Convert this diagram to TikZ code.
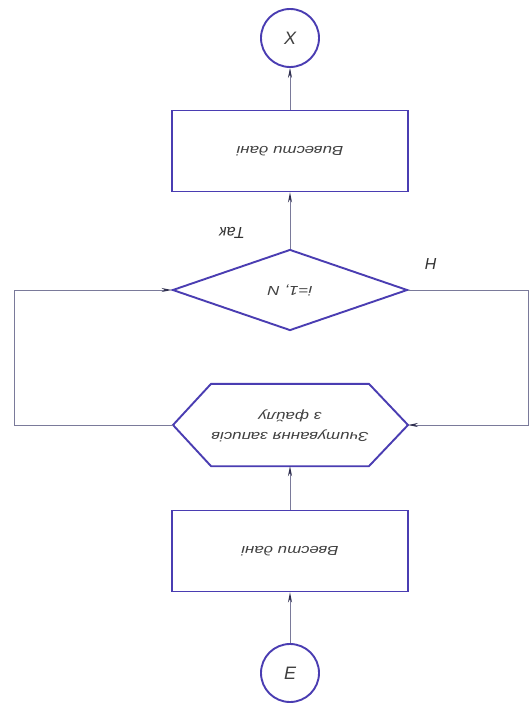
\documentclass[tikz,border=0pt]{standalone}
\usepackage{fontspec}
\setmainfont{Liberation Sans}
\usepackage{graphicx}
\usetikzlibrary{shapes.geometric,arrows.meta}
\definecolor{shapeblue}{HTML}{4A3DB2}
\definecolor{wirec}{HTML}{7A7A9A}
\definecolor{tipc}{HTML}{303050}
\newcommand\flipwide[1]{\rotatebox{180}{\scalebox{1.3}[1]{#1}}}
\begin{document}
\begin{tikzpicture}[x=1pt,y=-1pt,
  outl/.style={draw=shapeblue,line width=1.9pt},
  txt/.style={font=\itshape\fontsize{13}{15}\selectfont,text=black!75},
  box/.style={outl,txt,minimum width=236pt,minimum height=81pt,inner sep=0pt},
  term/.style={outl,circle,minimum size=58pt,inner sep=0pt,font=\itshape\fontsize{18}{18}\selectfont,text=black!75},
  wire/.style={draw=wirec,line width=0.9pt},
  arr/.style={wire,-{Stealth[length=10pt,width=4pt,color=tipc]}},
  lbl/.style={font=\itshape\fontsize{16}{16}\selectfont,text=black!80}]
\useasboundingbox[fill=white] (0,0) rectangle (531,709);
% terminals
\node[term] (fin) at (290,38) {X};
\node[term] (start) at (290,673) {E};
% process boxes
\node[box] (out) at (290,151) {\flipwide{Вивести дані}};
\node[box] (in) at (290,551) {\flipwide{Ввести дані}};
% decision
\node[diamond,outl,txt,minimum width=235pt,minimum height=81pt,aspect=2.9,inner sep=0pt] (cond) at (290,290) {\flipwide{i=1, N}};
% loop hexagon
\node[txt,minimum width=157pt,minimum height=82pt,inner sep=0pt] (hex) at (290,425)
  {\flipwide{\begin{tabular}{@{}c@{}}Зчитування записів\\[5pt]з файлу\end{tabular}}};
\coordinate (hexL) at (173,425);
\coordinate (hexR) at (408,425);
\draw[outl] (hexL) -- (hex.north west) -- (hex.north east) -- (hexR) -- (hex.south east) -- (hex.south west) -- cycle;
% labels
\node[lbl] (yes) at (232,233) {\rotatebox{180}{Так}};
\node[lbl] (no) at (431,264) {\rotatebox{180}{Н}};
% connectors
\coordinate (lc) at (14,290);
\coordinate (rc) at (528,290);
\draw[arr] (start) -- (in);
\draw[arr] (in) -- (hex.south);
\draw[arr] (hexL) -- (lc |- hexL) -- (lc) -- (cond.west);
\draw[arr] (cond.east) -- (rc) -- (rc |- hexR) -- (hexR);
\draw[arr] (cond.north) -- (out.south);
\draw[arr] (out) -- (fin);
\end{tikzpicture}
\end{document}
